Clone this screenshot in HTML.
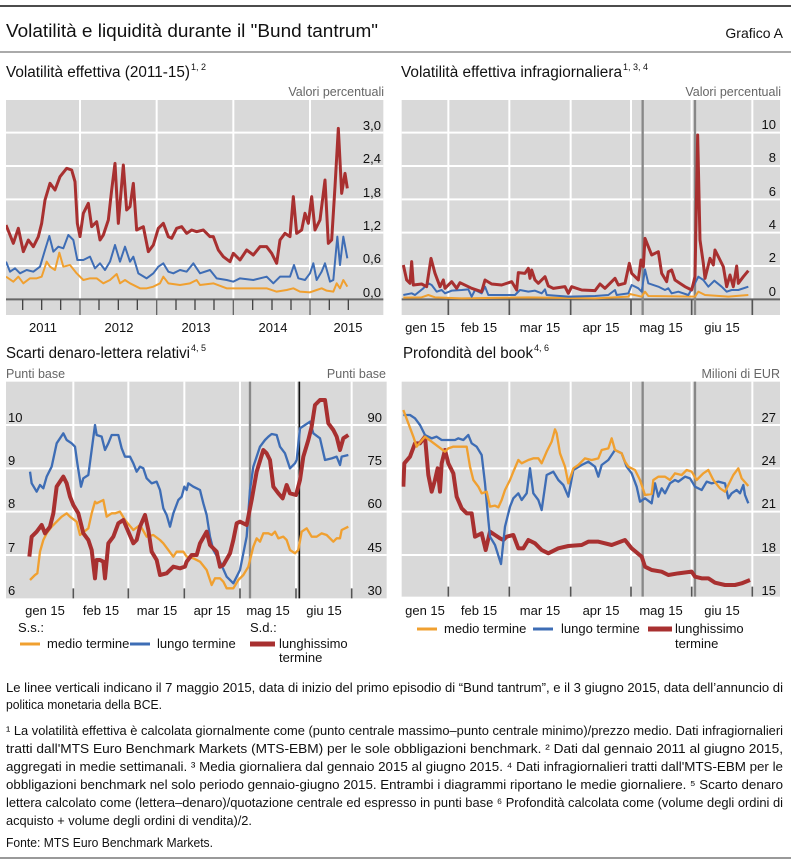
<!DOCTYPE html>
<html><head><meta charset="utf-8"><style>
html,body{margin:0;padding:0;background:#fff}
svg{display:block}
text{font-family:"Liberation Sans",sans-serif;fill:#111}
.ax{font-size:13px}
.u{font-size:12.5px;fill:#666}
.t{font-size:15.5px}
.fn{font-size:12.5px}
</style></head><body>
<svg width="791" height="866" viewBox="0 0 791 866" xmlns="http://www.w3.org/2000/svg">
<defs>
<clipPath id="c1"><rect x="18" y="60" width="1132" height="645"/></clipPath>
<clipPath id="c2"><rect x="20" y="60" width="1135" height="645"/></clipPath>
<clipPath id="c3"><rect x="18" y="125" width="1142" height="650"/></clipPath>
<clipPath id="c4"><rect x="20" y="125" width="1135" height="645"/></clipPath>
</defs>
<line x1="0" y1="6" x2="791" y2="6" stroke="#111" stroke-width="1.5"/>
<text x="6" y="37" style="font-size:18px" textLength="372" lengthAdjust="spacingAndGlyphs">Volatilità e liquidità durante il "Bund tantrum"</text>
<text x="783" y="38" text-anchor="end" style="font-size:14px">Grafico A</text>
<line x1="0" y1="52" x2="791" y2="52" stroke="#aaa" stroke-width="2"/>

<text x="6" y="77" class="t" textLength="184" lengthAdjust="spacingAndGlyphs">Volatilità effettiva (2011-15)</text><text x="191" y="70" style="font-size:9px">1, 2</text>
<text x="401" y="77" class="t" textLength="221" lengthAdjust="spacingAndGlyphs">Volatilità effettiva infragiornaliera</text><text x="623" y="70" style="font-size:9px">1, 3, 4</text>
<text x="384" y="96" text-anchor="end" class="u">Valori percentuali</text>
<text x="781" y="96" text-anchor="end" class="u">Valori percentuali</text>

<!-- Chart 1 -->
<g transform="translate(0,80) scale(0.33333)">
<rect x="18" y="60" width="1132" height="645" fill="#d9d9d9"/>
<g stroke="#fff" stroke-width="6">
<line x1="18" y1="158" x2="1150" y2="158"/><line x1="18" y1="258" x2="1150" y2="258"/><line x1="18" y1="358" x2="1150" y2="358"/><line x1="18" y1="458" x2="1150" y2="458"/><line x1="18" y1="558" x2="1150" y2="558"/>
<line x1="240" y1="60" x2="240" y2="658"/><line x1="470" y1="60" x2="470" y2="658"/><line x1="700" y1="60" x2="700" y2="658"/><line x1="930" y1="60" x2="930" y2="658"/>
</g>
<line x1="18" y1="658" x2="1150" y2="658" stroke="#666" stroke-width="6"/>
<g stroke="#444" stroke-width="4">
<path d="M68 658V690M125 658V690M182 658V690M297 658V690M355 658V690M412 658V690M528 658V690M585 658V690M642 658V690M758 658V690M816 658V690M873 658V690M988 658V690M1045 658V690"/>
<path d="M240 658V705M470 658V705M700 658V705M930 658V705" stroke="#666"/>
</g>
<g clip-path="url(#c1)" fill="none" stroke-linejoin="round">
<polyline stroke="#f0a030" stroke-width="6" points="18,590 40,605 55,590 70,610 90,595 110,595 125,590 140,545 150,560 165,570 178,518 190,560 210,555 230,580 250,600 270,595 290,595 310,610 330,600 350,582 360,610 375,600 390,610 420,625 440,625 460,620 480,610 490,590 505,610 540,615 570,610 590,600 600,615 640,610 680,625 720,625 760,625 800,625 830,635 860,630 880,625 900,635 930,637 950,630 965,625 980,632 1000,635 1010,610 1020,625 1030,600 1042,620"/>
<polyline stroke="#3e6db5" stroke-width="6" points="18,545 30,575 45,565 60,580 80,570 100,575 120,560 135,510 148,468 160,515 175,500 190,505 205,465 220,480 232,540 250,540 270,530 285,565 300,550 315,570 330,545 345,495 360,545 375,500 390,545 400,530 415,580 440,595 460,580 475,560 490,550 505,575 520,580 540,570 560,575 580,550 600,580 630,570 650,595 680,600 700,605 720,595 760,600 800,590 820,610 840,590 870,590 882,555 895,595 915,600 930,580 940,550 950,600 965,575 975,550 990,605 1000,600 1012,470 1020,555 1030,470 1042,535"/>
<polyline stroke="#a83030" stroke-width="9" points="18,435 40,490 55,445 70,515 85,480 100,500 115,470 125,430 135,360 150,310 165,330 180,290 200,265 215,270 225,305 232,430 240,470 250,400 265,370 275,440 290,425 300,480 310,465 325,420 335,330 345,250 355,430 370,255 380,390 390,380 400,310 410,450 430,440 445,515 460,495 475,445 490,430 505,470 515,475 530,445 545,440 560,460 575,450 590,455 610,450 630,470 640,470 655,510 670,530 690,545 700,520 720,540 740,510 760,525 780,500 800,500 815,520 830,550 840,480 855,460 870,470 880,350 890,460 905,450 915,400 925,430 935,350 945,450 960,420 975,300 985,490 995,480 1005,320 1015,145 1025,340 1035,280 1042,325"/>
</g>
</g>
<g class="ax" text-anchor="end">
<text x="381" y="130">3,0</text><text x="381" y="163">2,4</text><text x="381" y="197">1,8</text><text x="381" y="230">1,2</text><text x="381" y="263">0,6</text><text x="381" y="297">0,0</text>
</g>
<g class="ax" text-anchor="middle">
<text x="43" y="332">2011</text><text x="119" y="332">2012</text><text x="196" y="332">2013</text><text x="273" y="332">2014</text><text x="348" y="332">2015</text>
</g>

<!-- Chart 2 -->
<g transform="translate(395,80) scale(0.33333)">
<rect x="20" y="60" width="1135" height="645" fill="#d9d9d9"/>
<g stroke="#fff" stroke-width="6">
<line x1="20" y1="158" x2="1155" y2="158"/><line x1="20" y1="258" x2="1155" y2="258"/><line x1="20" y1="358" x2="1155" y2="358"/><line x1="20" y1="458" x2="1155" y2="458"/><line x1="20" y1="558" x2="1155" y2="558"/>
<path d="M160 60V658M343 60V658M527 60V658M708 60V658M890 60V658M1072 60V658"/>
</g>
<line x1="20" y1="658" x2="1155" y2="658" stroke="#666" stroke-width="6"/>
<path d="M160 658V705M343 658V705M527 658V705M708 658V705M890 658V705M1072 658V705" stroke="#555" stroke-width="5"/>
<path d="M743 60V705M900 60V705" stroke="#888" stroke-width="7"/>
<g clip-path="url(#c2)" fill="none" stroke-linejoin="round">
<polyline stroke="#f0a030" stroke-width="6" points="25,653 80,652 100,645 120,652 200,655 400,652 600,655 700,650 705,642 740,650 750,635 760,648 900,650 910,635 930,645 1000,650 1060,645"/>
<polyline stroke="#3e6db5" stroke-width="6" points="25,645 50,640 60,645 85,625 100,610 110,615 125,635 140,630 150,640 170,632 200,630 220,628 230,650 240,630 260,640 270,620 280,645 360,645 375,630 400,635 420,632 440,640 450,628 455,645 520,650 600,648 640,645 660,630 665,645 700,640 710,615 730,625 740,635 750,568 760,610 790,620 810,630 820,625 830,640 850,635 880,645 900,610 910,590 925,600 940,620 958,602 980,620 995,635 1010,630 1030,630 1060,620"/>
<polyline stroke="#a83030" stroke-width="9" points="25,555 35,600 45,610 50,545 55,615 80,612 95,620 108,535 120,580 135,620 145,600 150,625 170,605 185,625 195,608 230,625 260,635 270,600 290,612 320,615 350,605 365,630 370,578 390,580 400,565 405,595 410,570 420,600 430,610 450,590 460,618 475,625 510,620 520,640 530,620 560,630 600,632 615,612 630,625 660,595 670,615 690,610 703,550 710,580 730,600 738,540 745,560 750,475 770,525 790,515 800,580 815,605 820,575 830,570 840,600 855,610 870,620 890,630 900,590 908,165 915,480 925,550 930,595 945,535 955,555 960,510 975,540 985,560 995,620 1005,585 1015,620 1025,558 1030,610 1045,590 1060,572"/>
</g>
</g>
<g class="ax" text-anchor="end">
<text x="776" y="129">10</text><text x="776" y="162">8</text><text x="776" y="196">6</text><text x="776" y="229">4</text><text x="776" y="262">2</text><text x="776" y="296">0</text>
</g>
<g class="ax" text-anchor="middle">
<text x="425" y="332">gen 15</text><text x="479" y="332">feb 15</text><text x="540" y="332">mar 15</text><text x="601" y="332">apr 15</text><text x="661" y="332">mag 15</text><text x="722" y="332">giu 15</text>
</g>

<text x="6" y="358" class="t" textLength="184" lengthAdjust="spacingAndGlyphs">Scarti denaro-lettera relativi</text><text x="191" y="351" style="font-size:9px">4, 5</text>
<text x="403" y="358" class="t" textLength="130" lengthAdjust="spacingAndGlyphs">Profondità del book</text><text x="534" y="351" style="font-size:9px">4, 6</text>
<text x="6" y="378" class="u">Punti base</text>
<text x="386" y="378" text-anchor="end" class="u">Punti base</text>
<text x="780" y="378" text-anchor="end" class="u">Milioni di EUR</text>

<!-- Chart 3 -->
<g transform="translate(0,340) scale(0.33333)">
<rect x="18" y="125" width="1142" height="650" fill="#d9d9d9"/>
<g stroke="#fff" stroke-width="6">
<path d="M18 255H1160M18 385H1160M18 515H1160M18 645H1160"/>
<path d="M220 125V775M385 125V775M553 125V775M720 125V775M888 125V775M1055 125V775"/>
</g>
<path d="M220 745V775M385 745V775M553 745V775M720 745V775M888 745V775M1055 745V775" stroke="#555" stroke-width="5"/>
<path d="M750 125V775" stroke="#888" stroke-width="7"/>
<path d="M898 125V775" stroke="#111" stroke-width="5"/>
<g clip-path="url(#c3)" fill="none" stroke-linejoin="round">
<polyline stroke="#f0a030" stroke-width="7" points="90,720 105,705 112,700 120,635 130,600 140,580 155,560 170,545 185,530 200,520 210,530 230,545 240,585 265,565 275,520 285,485 290,490 310,480 320,530 335,520 345,520 360,515 375,540 400,570 420,555 440,590 460,585 480,600 490,610 520,650 530,635 550,635 560,650 580,655 600,665 620,690 635,735 645,715 660,715 670,725 680,745 700,745 715,720 730,705 745,680 760,620 770,595 780,605 790,580 805,580 815,585 825,575 835,595 850,590 860,600 870,630 885,640 895,630 905,575 920,565 935,590 950,590 965,580 980,585 1000,605 1010,595 1020,595 1025,570 1045,560"/>
<polyline stroke="#3e6db5" stroke-width="7" points="90,395 95,430 110,455 120,435 130,445 140,410 155,380 170,310 190,280 200,300 215,310 225,320 232,370 243,440 250,415 265,405 275,330 285,255 290,285 305,290 315,330 325,310 335,285 355,285 365,325 375,350 390,350 400,370 410,395 420,380 430,385 440,415 455,430 470,425 480,450 490,505 500,525 510,560 520,520 535,480 545,470 553,440 560,450 565,430 580,440 590,445 600,450 610,490 620,525 630,590 640,630 660,665 680,710 700,730 720,690 730,640 740,590 750,450 760,380 770,350 780,320 795,300 805,290 815,282 830,285 840,320 855,340 870,385 885,370 890,360 900,265 915,255 930,245 940,280 960,295 975,360 995,355 1010,350 1020,375 1025,350 1045,345"/>
<polyline stroke="#a83030" stroke-width="12" points="88,650 95,590 110,575 125,555 135,580 150,560 160,520 170,440 190,410 200,430 210,470 220,495 235,520 240,540 250,580 265,600 275,630 285,715 290,660 300,660 310,665 315,715 325,610 340,590 355,550 370,540 385,575 400,610 410,600 420,560 435,525 445,570 455,635 470,660 480,705 500,700 520,680 540,685 555,680 560,665 575,645 590,645 600,610 620,575 630,615 650,635 660,680 670,675 690,640 700,600 710,550 720,545 740,555 755,480 770,395 790,330 800,340 810,360 820,440 835,460 848,475 860,435 870,460 888,465 900,420 910,350 925,300 935,260 945,195 960,180 975,180 985,250 1000,270 1010,290 1020,330 1030,295 1045,285"/>
</g>
</g>
<g class="ax">
<text x="8" y="422">10</text><text x="8" y="465">9</text><text x="8" y="508">8</text><text x="8" y="552">7</text><text x="8" y="595">6</text>
</g>
<g class="ax" text-anchor="end">
<text x="382" y="422">90</text><text x="382" y="465">75</text><text x="382" y="508">60</text><text x="382" y="552">45</text><text x="382" y="595">30</text>
</g>
<g class="ax" text-anchor="middle">
<text x="45" y="615">gen 15</text><text x="101" y="615">feb 15</text><text x="157" y="615">mar 15</text><text x="212" y="615">apr 15</text><text x="268" y="615">mag 15</text><text x="324" y="615">giu 15</text>
</g>
<text x="18" y="632" class="ax">S.s.:</text>
<text x="250" y="632" class="ax">S.d.:</text>
<line x1="20" y1="644" x2="40" y2="644" stroke="#f0a030" stroke-width="3"/>
<text x="47" y="648" class="ax">medio termine</text>
<line x1="130" y1="644" x2="150" y2="644" stroke="#3e6db5" stroke-width="3"/>
<text x="157" y="648" class="ax">lungo termine</text>
<line x1="250" y1="644" x2="275" y2="644" stroke="#a83030" stroke-width="5"/>
<text x="279" y="648" class="ax">lunghissimo</text>
<text x="279" y="662" class="ax">termine</text>

<!-- Chart 4 -->
<g transform="translate(395,340) scale(0.33333)">
<rect x="20" y="125" width="1135" height="645" fill="#d9d9d9"/>
<g stroke="#fff" stroke-width="6">
<path d="M20 255H1155M20 385H1155M20 515H1155M20 645H1155"/>
<path d="M160 125V770M343 125V770M527 125V770M708 125V770M890 125V770M1072 125V770"/>
</g>
<path d="M160 740V770M343 740V770M527 740V770M708 740V770M890 740V770M1072 740V770" stroke="#555" stroke-width="5"/>
<path d="M743 125V770M900 125V770" stroke="#888" stroke-width="7"/>
<g clip-path="url(#c4)" fill="none" stroke-linejoin="round">
<polyline stroke="#a83030" stroke-width="12" points="25,440 28,370 45,350 60,310 75,310 90,290 100,405 110,455 120,420 128,385 135,455 140,370 150,330 160,370 175,400 185,470 200,505 215,520 230,520 240,590 260,580 272,630 285,575 300,585 315,595 325,600 335,590 355,585 370,625 385,625 400,600 420,610 440,630 460,640 490,625 520,618 560,615 580,605 610,605 650,615 690,600 710,625 740,650 750,680 770,690 800,695 820,705 850,700 890,695 900,710 920,715 940,715 960,728 990,735 1020,735 1040,730 1065,720"/>
<polyline stroke="#3e6db5" stroke-width="7" points="25,225 45,225 60,235 75,255 90,285 110,295 125,290 140,300 160,300 180,300 190,295 205,300 220,285 230,310 245,320 260,345 270,430 280,540 285,590 300,615 318,672 330,560 345,500 355,475 370,460 380,480 395,460 405,385 415,460 430,480 440,510 455,405 475,395 490,420 505,435 520,470 535,390 560,375 580,365 600,380 610,410 620,375 640,360 660,330 680,340 695,380 710,400 725,440 735,485 750,475 770,490 780,430 790,470 800,445 810,460 825,430 840,420 850,425 870,410 885,415 900,440 920,450 935,425 950,430 970,425 990,430 1000,475 1010,460 1025,450 1035,460 1045,435 1050,465 1060,490"/>
<polyline stroke="#f0a030" stroke-width="7" points="25,210 40,250 55,290 65,320 90,290 110,305 130,320 150,335 160,325 175,320 215,320 225,380 235,420 250,440 260,460 275,455 285,500 300,497 310,502 320,480 330,450 345,420 355,395 370,360 380,370 400,360 415,355 430,355 440,370 455,335 470,305 480,268 485,280 495,340 510,380 520,430 535,385 550,375 570,355 590,360 610,355 620,330 640,325 650,295 660,330 680,340 690,365 700,380 720,390 735,420 750,465 770,462 775,420 790,410 810,410 825,420 840,400 860,405 875,390 890,395 905,420 925,400 940,390 955,420 975,445 990,455 1000,435 1015,405 1030,385 1040,415 1060,438"/>
</g>
</g>
<g class="ax" text-anchor="end">
<text x="776" y="422">27</text><text x="776" y="465">24</text><text x="776" y="508">21</text><text x="776" y="552">18</text><text x="776" y="595">15</text>
</g>
<g class="ax" text-anchor="middle">
<text x="425" y="615">gen 15</text><text x="479" y="615">feb 15</text><text x="540" y="615">mar 15</text><text x="601" y="615">apr 15</text><text x="661" y="615">mag 15</text><text x="722" y="615">giu 15</text>
</g>
<line x1="417" y1="629" x2="437" y2="629" stroke="#f0a030" stroke-width="3"/>
<text x="444" y="633" class="ax">medio termine</text>
<line x1="533" y1="629" x2="553" y2="629" stroke="#3e6db5" stroke-width="3"/>
<text x="561" y="633" class="ax">lungo termine</text>
<line x1="648" y1="629" x2="672" y2="629" stroke="#a83030" stroke-width="5"/>
<text x="675" y="633" class="ax">lunghissimo</text>
<text x="675" y="648" class="ax">termine</text>

<!-- notes -->
<g class="fn">
<text x="6" y="692" textLength="777" lengthAdjust="spacingAndGlyphs">Le linee verticali indicano il 7 maggio 2015, data di inizio del primo episodio di “Bund tantrum”, e il 3 giugno  2015, data dell’annuncio di</text>
<text x="6" y="709" textLength="156" lengthAdjust="spacingAndGlyphs">politica monetaria della BCE.</text>
<text x="6" y="735" textLength="777" lengthAdjust="spacingAndGlyphs">¹  La volatilità effettiva è calcolata giornalmente come (punto centrale massimo–punto centrale minimo)/prezzo medio. Dati infragiornalieri</text>
<text x="6" y="753" textLength="777" lengthAdjust="spacingAndGlyphs">tratti dall'MTS Euro Benchmark Markets (MTS-EBM) per le sole obbligazioni benchmark.  ² Dati dal gennaio 2011 al giugno 2015,</text>
<text x="6" y="771" textLength="777" lengthAdjust="spacingAndGlyphs">aggregati in medie settimanali.  ³ Media giornaliera dal gennaio 2015 al giugno 2015.  ⁴ Dati infragiornalieri tratti dall'MTS-EBM per le</text>
<text x="6" y="789" textLength="777" lengthAdjust="spacingAndGlyphs">obbligazioni benchmark nel solo periodo gennaio-giugno 2015. Entrambi i diagrammi riportano le medie giornaliere.  ⁵ Scarto denaro</text>
<text x="6" y="807" textLength="777" lengthAdjust="spacingAndGlyphs">lettera calcolato come (lettera–denaro)/quotazione centrale ed espresso in punti base  ⁶ Profondità calcolata come (volume degli ordini di</text>
<text x="6" y="825" textLength="246" lengthAdjust="spacingAndGlyphs">acquisto + volume degli ordini di vendita)/2.</text>
<text x="6" y="847" textLength="207" lengthAdjust="spacingAndGlyphs">Fonte: MTS Euro Benchmark Markets.</text>
</g>
<line x1="0" y1="858" x2="791" y2="858" stroke="#999" stroke-width="2"/>
</svg>
</body></html>
